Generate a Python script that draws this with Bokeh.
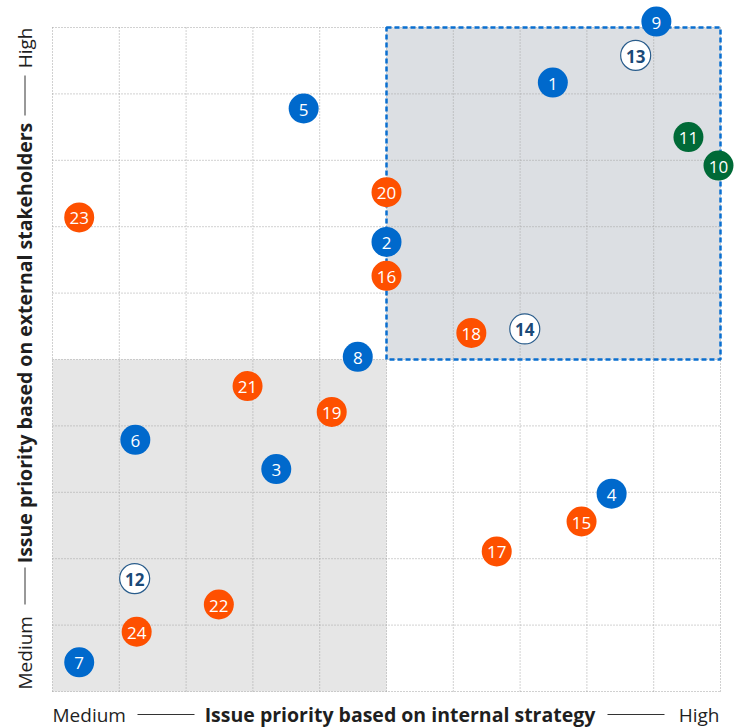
import math
from bokeh.plotting import figure
from bokeh.models import ColumnDataSource, Range1d
from bokeh.core.properties import value
from bokeh.embed import file_html
from bokeh.resources import INLINE

# ---------------- data ----------------
issue_ids = [str(i) for i in range(1, 25)]
internal_priority = [7.49, 5.00, 3.35, 8.37, 3.76, 1.24, 0.40, 4.57, 9.04, 9.97, 9.52, 1.23,
                     8.73, 7.07, 7.92, 5.00, 6.65, 6.27, 4.18, 5.00, 2.92, 2.49, 0.40, 1.26]
external_priority = [9.17, 6.77, 3.35, 2.98, 8.78, 3.79, 0.44, 5.04, 10.09, 7.92, 8.35, 1.70,
                     9.58, 5.46, 2.56, 6.26, 2.11, 5.40, 4.21, 7.52, 4.60, 1.31, 7.14, 0.90]
issue_group = ["blue"] * 9 + ["green"] * 2 + ["outline"] * 3 + ["orange"] * 10
grid_ticks = list(range(0, 11))
x_label_low, x_label_high = "Medium", "High"
x_title = "Issue priority based on internal strategy"
y_label_low, y_label_high = "Medium", "High"
y_title = "Issue priority based on external stakeholders"

# ---------------- styles ----------------
FILL = {"blue": "#0069cc", "green": "#006a37", "outline": "#ffffff", "orange": "#fe5000"}
LINE = {"blue": None, "green": None, "outline": "#2a5d8c", "orange": None}
TXT = {"blue": "#ffffff", "green": "#ffffff", "outline": "#1b4a78", "orange": "#ffffff"}
FONT = "Open Sans"
INK = "#1f1f1f"

W, H = 740, 727
X0, SX = 52.0, 66.8      # canvas px of data 0 on x, px per unit
Y0, SY = 691.0, 66.4     # canvas px of data 0 on y, px per unit


def dx(px):
    return (px - X0) / SX


def dy(py):
    return (Y0 - py) / SY


p = figure(width=W, height=H, output_backend="svg", toolbar_location=None,
           x_axis_location=None, y_axis_location=None,
           x_range=Range1d(dx(0), dx(W)), y_range=Range1d(dy(H), dy(0)),
           background_fill_color="white", border_fill_color="white")
p.min_border = 0
p.min_border_left = p.min_border_right = p.min_border_top = p.min_border_bottom = 0
p.outline_line_color = None
p.grid.visible = False

lo, mid, hi = grid_ticks[0], grid_ticks[len(grid_ticks) // 2], grid_ticks[-1]

# quadrant backgrounds
p.quad(left=[lo], right=[mid], bottom=[lo], top=[mid], fill_color="#e6e6e6", line_color=None)
p.quad(left=[mid], right=[hi], bottom=[mid], top=[hi], fill_color="#dcdfe3", line_color=None)

# dotted grid
p.segment(x0=grid_ticks, x1=grid_ticks, y0=[lo] * len(grid_ticks), y1=[hi] * len(grid_ticks),
          line_color="#a3a3a3", line_width=1, line_dash="1 2")
p.segment(x0=[lo] * len(grid_ticks), x1=[hi] * len(grid_ticks), y0=grid_ticks, y1=grid_ticks,
          line_color="#a3a3a3", line_width=1, line_dash="1 2")

# dashed border of top-right quadrant
p.quad(left=[mid], right=[hi], bottom=[mid], top=[hi], fill_color=None,
       line_color="#0a6fd0", line_width=2.5, line_dash="5 3")

# points
for g in ["blue", "green", "orange", "outline"]:
    idx = [i for i, gg in enumerate(issue_group) if gg == g]
    src = ColumnDataSource(dict(x=[internal_priority[i] for i in idx],
                                y=[external_priority[i] for i in idx],
                                t=[issue_ids[i] for i in idx]))
    if LINE[g]:
        p.scatter("x", "y", source=src, size=30, fill_color=FILL[g], line_color=LINE[g], line_width=1.2)
    else:
        p.scatter("x", "y", source=src, size=30, fill_color=FILL[g], line_color=None)
    p.text("x", "y", text="t", source=src, text_align="center", text_baseline="middle",
           text_font=value(FONT), text_font_size="17px", text_color=TXT[g],
           text_font_style="bold" if g == "outline" else "normal", y_offset=1)

# x-axis labels
xb = dy(714)
p.text(x=[dx(52)], y=[xb], text=[x_label_low], text_align="left", text_baseline="alphabetic",
       text_font=value(FONT), text_font_size="19px", text_color=INK)
p.text(x=[dx(719)], y=[xb], text=[x_label_high], text_align="right", text_baseline="alphabetic",
       text_font=value(FONT), text_font_size="19px", text_color=INK)
p.text(x=[dx(399.5)], y=[xb], text=[x_title], text_align="center", text_baseline="alphabetic",
       text_font=value(FONT), text_font_size="19.5px", text_font_style="bold", text_color=INK)
p.segment(x0=[dx(137), dx(607)], x1=[dx(194), dx(664)], y0=[dy(714)] * 2, y1=[dy(714)] * 2,
          line_color="#333333", line_width=1)

# y-axis labels (rotated)
yb = dx(24)
p.text(x=[yb], y=[dy(689)], text=[y_label_low], angle=math.pi / 2, text_align="left",
       text_baseline="alphabetic", text_font=value(FONT), text_font_size="19px", text_color=INK)
p.text(x=[yb], y=[dy(27)], text=[y_label_high], angle=math.pi / 2, text_align="right",
       text_baseline="alphabetic", text_font=value(FONT), text_font_size="19px", text_color=INK)
p.text(x=[yb], y=[dy(342.5)], text=[y_title], angle=math.pi / 2, text_align="center",
       text_baseline="alphabetic", text_font=value(FONT), text_font_size="19.5px",
       text_font_style="bold", text_color=INK)
p.segment(x0=[dx(24.5)] * 2, x1=[dx(24.5)] * 2, y0=[dy(604), dy(115)], y1=[dy(567), dy(75)],
          line_color="#333333", line_width=1)

open("out.html", "w").write(file_html(p, INLINE))
